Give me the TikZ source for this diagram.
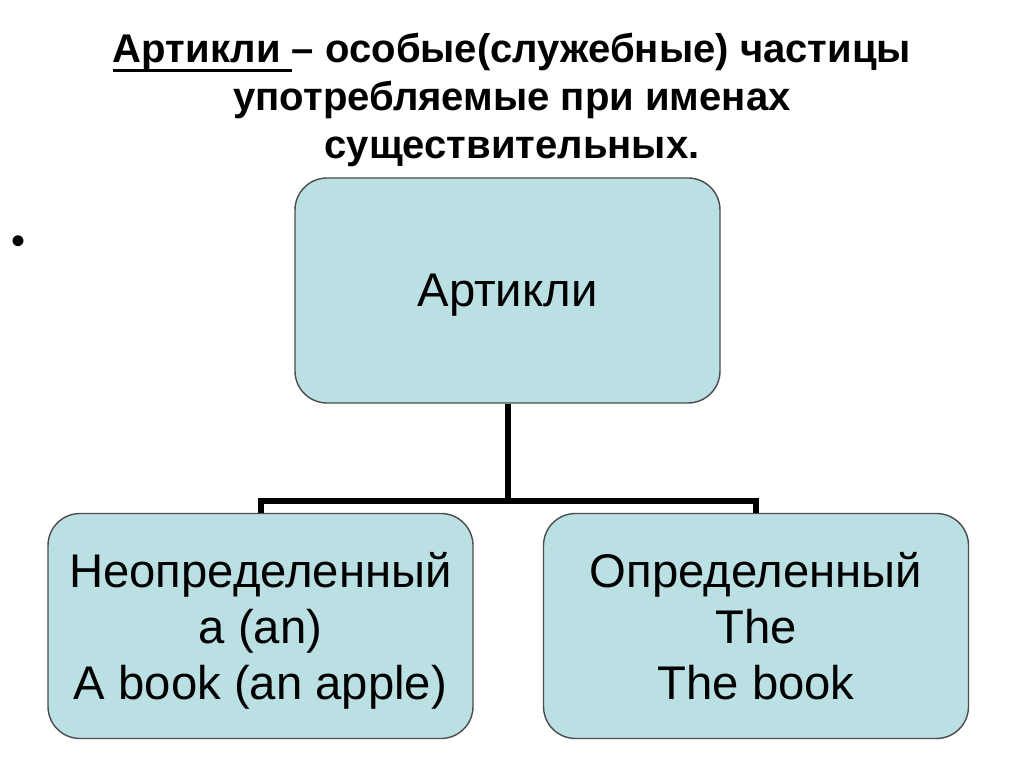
\documentclass[tikz,border=0pt]{standalone}
\usepackage{fontspec}
\setmainfont{Liberation Sans}
\definecolor{boxfill}{RGB}{187,224,227}
\newcommand{\ulword}[1]{\leavevmode\setbox0\hbox{#1}%
  \rlap{\rule[-0.9mm]{\wd0}{0.3mm}}\box0}
\tikzset{
  artbox/.style={draw=black!70, line width=0.4pt, fill=boxfill,
    rounded corners=3.2mm, minimum width=42.5mm, minimum height=22.5mm,
    inner sep=0pt, align=center, text depth=0pt,
    font=\fontsize{13.45}{15.9}\selectfont},
  branch/.style={line width=0.6mm},
}

\begin{document}
\begin{tikzpicture}[x=0.1mm,y=-0.1mm]
\useasboundingbox (0,0) rectangle (1024,768);

% Title
\node[anchor=north, align=center,
  font=\bfseries\fontsize{11.4}{13.66}\selectfont] (title) at (512,21)
  {\ulword{Артикли\ }– особые(служебные) частицы\\употребляемые при именах\\существительных.};

% Bullet
\node[font=\fontsize{11.4}{13}\selectfont] (dot) at (19,245) {•};

% Boxes
\node[artbox] (art) at (507.5,290.5) {Артикли};
\node[artbox] (indef) at (260.5,626)
  {Неопределенный\\a (an)\\A book (an apple)};
\node[artbox] (def) at (756,626) {Определенный\\The\\The book};

% Tree lines
\coordinate (fork) at (507.5,501);
\draw[branch] (art.south) -- (fork);
\draw[branch] (indef.north) |- (fork) -| (def.north);
\end{tikzpicture}
\end{document}
